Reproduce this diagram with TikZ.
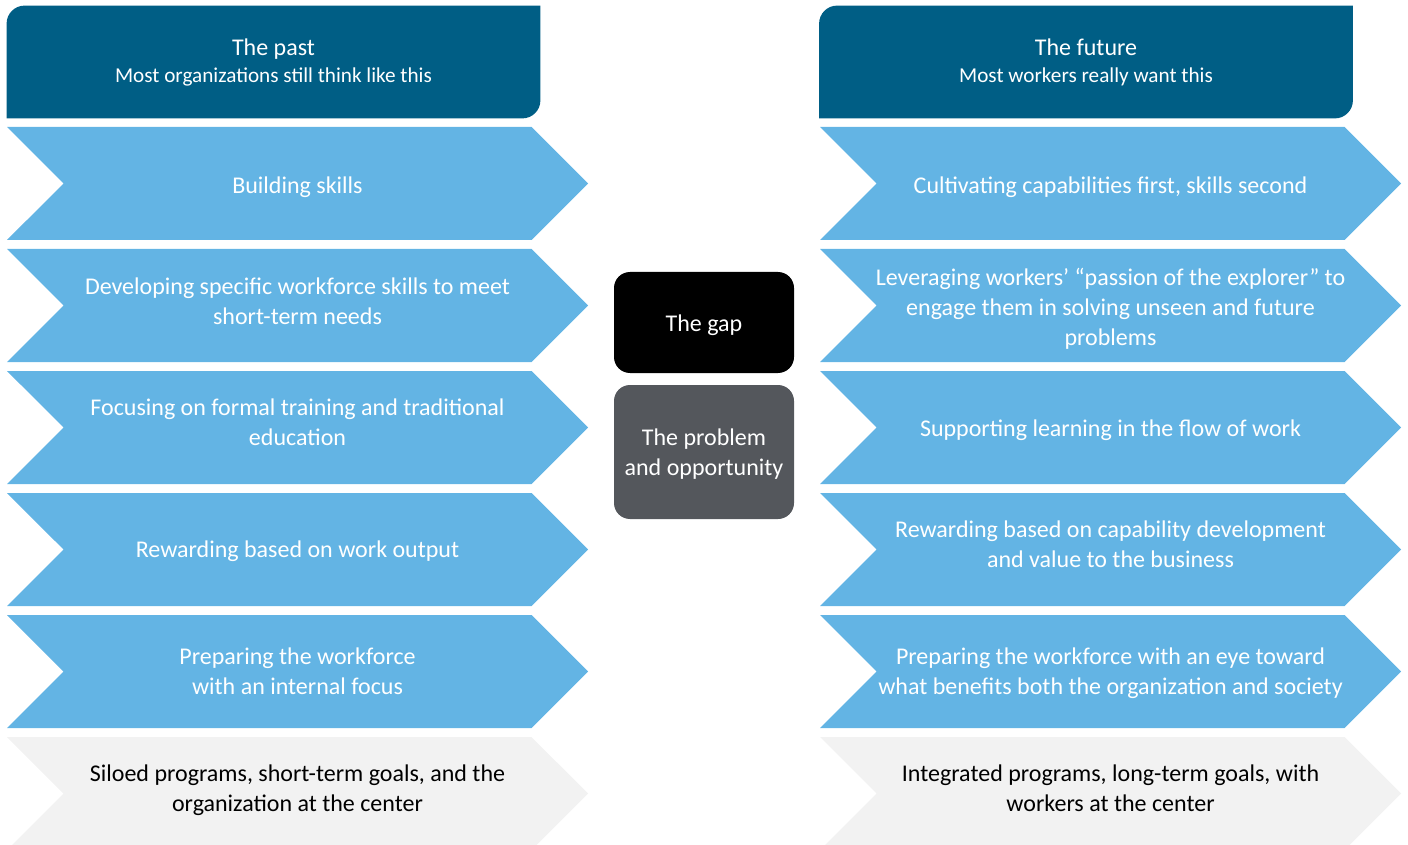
\documentclass[tikz,border=0pt]{standalone}
\usepackage{fontspec}
\setmainfont{Carlito}
\usetikzlibrary{shapes.symbols,backgrounds,calc}
\definecolor{headblue}{HTML}{005E85}
\definecolor{skyblue}{HTML}{63B4E4}
\definecolor{palegray}{HTML}{F2F2F2}
\definecolor{slate}{HTML}{54575C}
\tikzset{
  chev/.style={signal, signal from=west, signal to=east, signal pointer angle=90,
    fill=skyblue, minimum width=290.5pt, minimum height=56.5pt, inner sep=0pt},
  greychev/.style={chev, fill=palegray},
  chevtext/.style={inner sep=0pt, text=white, align=center,
    font=\fontsize{12}{15}\selectfont},
  greytext/.style={chevtext, text=black},
  headtext/.style={minimum width=266.5pt, minimum height=56pt, inner sep=0pt,
    text=white, align=center, font=\fontsize{10.6}{13.5}\selectfont},
  midbox/.style={rounded corners=8pt, minimum width=90pt, inner sep=0pt},
}
\begin{document}
\begin{tikzpicture}[x=0.5pt, y=-0.5pt]
  \useasboundingbox (0,0) rectangle (1408,845);
  % headers
  \node[headtext] (past) at (273.5,62) {{\fontsize{12}{13.5}\selectfont The past}\\Most organizations still think like this};
  \node[headtext] (future) at (1086,62) {{\fontsize{12}{13.5}\selectfont The future}\\Most workers really want this};
  % round corners top left and bottom right only
  \begin{scope}[on background layer]
    \foreach \h in {past,future}
      \fill[headblue] (\h.south west) -- ([yshift=-9pt]\h.north west)
        arc[start angle=180, end angle=90, radius=9pt] -- (\h.north east)
        -- ([yshift=9pt]\h.south east) arc[start angle=0, end angle=-90, radius=9pt] -- cycle;
  \end{scope}
  % left column
  \foreach \n/\dy/\txt in {1/4/Building skills,
      2/-4/{Developing specific workforce skills to meet\\short-term needs},
      3/-5/{Focusing on formal training and traditional\\education},
      4/2/Rewarding based on work output,
      5/0/{Preparing the workforce\\with an internal focus}}{
    \node[chev] (old\n) at (297.5,61.5+122*\n) {};
    \node[chevtext] (oldtxt\n) at ($(old\n)+(0,\dy)$) {\txt};
  }
  \node[greychev] (old6) at (297.5,793.5) {};
  \node[greytext] (oldtxt6) at ($(old6)+(0,-3)$) {Siloed programs, short-term goals, and the\\organization at the center};
  % right column
  \foreach \n/\dy/\txt in {1/4/{Cultivating capabilities first, skills second},
      2/3/{Leveraging workers’ “passion of the explorer” to\\engage them in solving unseen and future\\problems},
      3/3/Supporting learning in the flow of work,
      4/-5/{Rewarding based on capability development\\and value to the business},
      5/2/{Preparing the workforce with an eye toward\\what benefits both the organization and society}}{
    \node[chev] (new\n) at (1110.5,61.5+122*\n) {};
    \node[chevtext] (newtxt\n) at ($(new\n)+(0,\dy)$) {\txt};
  }
  \node[greychev] (new6) at (1110.5,793.5) {};
  \node[greytext] (newtxt6) at ($(new6)+(0,-5)$) {Integrated programs, long-term goals, with\\workers at the center};
  % the middle
  \node[midbox, fill=black, minimum height=50.5pt] (gap) at (704,322.5) {};
  \node[chevtext] (gaptxt) at ($(gap)+(0,3)$) {The gap};
  \node[midbox, fill=slate, minimum height=67pt] (problem) at (704,452) {};
  \node[chevtext] (problemtxt) at ($(problem)+(0,2)$) {The problem\\and opportunity};
\end{tikzpicture}
\end{document}
